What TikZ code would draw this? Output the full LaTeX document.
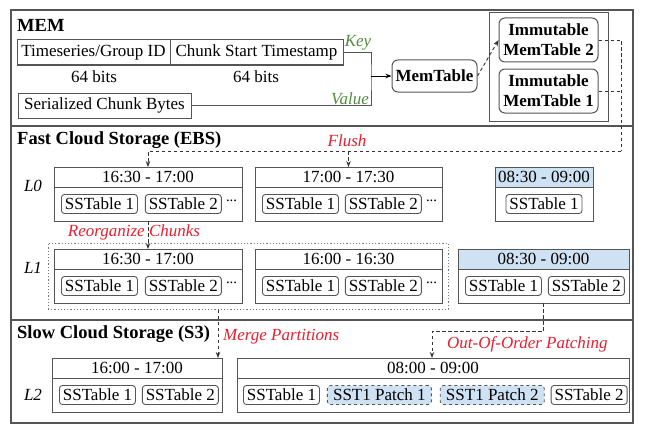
\documentclass[tikz,border=0pt]{standalone}
\usepackage{fontspec}
\setmainfont{Liberation Serif}
\usetikzlibrary{arrows.meta}
\usetikzlibrary{positioning}
\definecolor{edgegray}{RGB}{85,85,85}
\definecolor{hotblue}{RGB}{207,226,243}
\definecolor{opred}{RGB}{232,30,45}
\definecolor{kvgreen}{RGB}{84,140,62}
\newcommand{\figfont}{\fontsize{17}{20}\selectfont}
\tikzset{sec/.style = {draw=edgegray, line width=1.2pt},
         field/.style = {draw=edgegray, line width=1pt, minimum height=25pt,
                          inner sep=2pt, outer sep=0pt},
         mtab/.style = {draw=edgegray, line width=1pt, rounded corners=6pt,
                         font=\figfont\bfseries, align=center, inner sep=2pt},
         hdr/.style = {draw=edgegray, line width=1pt, minimum height=20pt,
                        inner sep=0pt, outer sep=0pt, anchor=north west},
         body/.style = {draw=edgegray, line width=1pt, minimum height=34pt,
                         inner sep=0pt, outer sep=0pt, anchor=north},
         sst/.style = {draw=edgegray, line width=0.9pt, rounded corners=3pt,
                        minimum width=76pt, minimum height=19pt, inner sep=1pt},
         patch/.style = {sst, dashed, fill=hotblue, minimum width=104pt},
         more/.style = {inner sep=1pt, yshift=1.5pt, font=\fontsize{11}{11}\selectfont\bfseries},
         grp/.style = {draw=edgegray!80, line width=1pt, dash pattern=on 1.2pt off 2pt},
         flow/.style = {draw=black!80, line width=0.9pt, dash pattern=on 3.5pt off 2.5pt},
         flowto/.style = {flow, -{Stealth[length=6pt,width=4.5pt]}},
         lvl/.style = {font=\figfont\itshape},
         op/.style = {font=\figfont\itshape, text=opred},
         kv/.style = {font=\figfont\itshape, text=kvgreen},
         sectitle/.style = {font=\fontsize{18.5}{22}\selectfont\bfseries, anchor=west, inner sep=0pt}}

\begin{document}
\begin{tikzpicture}[x=1pt, y=-1pt, font=\figfont]
    \useasboundingbox (0,0) rectangle (650,436);
    % the three storage tiers
    \draw [sec] (11,10) rectangle (633,126);
    \draw [sec] (11,126) rectangle (633,320);
    \draw [sec] (11,320) rectangle (633,423);
    \node [sectitle] (memt) at (17,25) {MEM};
    \node [sectitle] (ebst) at (17,140) {Fast Cloud Storage (EBS)};
    \node [sectitle] (s3t) at (17,334) {Slow Cloud Storage (S3)};

    % MEM
    \node [field, minimum width=153pt, anchor=north west] (tsid) at (17,40) {Timeseries/Group ID};
    \node [field, minimum width=173pt, anchor=west] (cst) at (tsid.east) {Chunk Start Timestamp};
    \node (bits1) at (94,77) {64 bits};
    \node (bits2) at (256,77) {64 bits};
    \node [field, minimum width=173pt, anchor=north west] (scb) at (18,93) {Serialized Chunk Bytes};
    \node [mtab, minimum width=85pt, minimum height=32pt] (memtab) at (434.5,76) {MemTable};
    \coordinate (kvjoin) at (371,76);
    \draw [edgegray, line width=0.9pt] (cst.east) -| (kvjoin) |- (scb.east);
    \draw [line width=0.9pt, -{Stealth[length=6pt,width=4.5pt]}] (kvjoin) -- (memtab.west);
    \node [kv] (keylbl) at (358,43) {Key};
    \node [kv] (vallbl) at (350,99) {Value};
    \draw [edgegray, line width=1pt] (489,13) rectangle (608,121);
    \node [mtab, minimum width=99pt, minimum height=44pt] (imm2) at (548.5,40) {Immutable\\MemTable 2};
    \node [mtab, minimum width=99pt, minimum height=44pt] (imm1) at (548.5,91) {Immutable\\MemTable 1};
    \draw [flowto] (memtab.east) -- (imm2.west);

    % flush into L0
    \coordinate (flushr) at (621,151);
    \draw [flow] (imm2.east) -| (flushr);
    \draw [flow] (imm1.east) -- (imm1.east -| flushr);
    \node [op] (flushlbl) at (347,141) {Flush};

    % L0
    \node [lvl] (l0) at (33,186) {L0};
    \node [hdr, minimum width=188pt] (l0ah) at (54,167) {16:30 - 17:00};
    \node [body, minimum width=188pt] (l0ab) at (l0ah.south) {};
    \node [sst, anchor=west] (l0a1) at ([xshift=7pt]l0ab.west) {SSTable 1};
    \node [sst, right=7pt of l0a1] (l0a2) {SSTable 2};
    \node [more, right=3pt of l0a2] (l0am) {\textperiodcentered\textperiodcentered\textperiodcentered};
    \node [hdr, minimum width=187pt] (l0bh) at (255,167) {17:00 - 17:30};
    \node [body, minimum width=187pt] (l0bb) at (l0bh.south) {};
    \node [sst, anchor=west] (l0b1) at ([xshift=7pt]l0bb.west) {SSTable 1};
    \node [sst, right=6pt of l0b1] (l0b2) {SSTable 2};
    \node [more, right=3pt of l0b2] (l0bm) {\textperiodcentered\textperiodcentered\textperiodcentered};
    \node [hdr, minimum width=98pt, fill=hotblue] (l0ch) at (495,167) {08:30 - 09:00};
    \node [body, minimum width=98pt] (l0cb) at (l0ch.south) {};
    \node [sst] (l0c1) at (l0cb.center) {SSTable 1};
    \draw [flowto] (flushr) -| (l0ah.north);
    \draw [flowto] (l0bh.north |- flushr) -- (l0bh.north);

    % L1
    \node [grp, minimum width=400pt, minimum height=66pt] (l1grp) at (248,276) {};
    \node [lvl] (l1) at (33,268) {L1};
    \node [hdr, minimum width=188pt] (l1ah) at (54,249) {16:30 - 17:00};
    \node [body, minimum width=188pt] (l1ab) at (l1ah.south) {};
    \node [sst, anchor=west] (l1a1) at ([xshift=7pt]l1ab.west) {SSTable 1};
    \node [sst, right=7pt of l1a1] (l1a2) {SSTable 2};
    \node [more, right=3pt of l1a2] (l1am) {\textperiodcentered\textperiodcentered\textperiodcentered};
    \node [hdr, minimum width=187pt] (l1bh) at (255,249) {16:00 - 16:30};
    \node [body, minimum width=187pt] (l1bb) at (l1bh.south) {};
    \node [sst, anchor=west] (l1b1) at ([xshift=7pt]l1bb.west) {SSTable 1};
    \node [sst, right=6pt of l1b1] (l1b2) {SSTable 2};
    \node [more, right=3pt of l1b2] (l1bm) {\textperiodcentered\textperiodcentered\textperiodcentered};
    \node [hdr, minimum width=171pt, fill=hotblue] (l1ch) at (458,249) {08:30 - 09:00};
    \node [body, minimum width=171pt] (l1cb) at (l1ch.south) {};
    \node [sst, anchor=west] (l1c1) at ([xshift=7pt]l1cb.west) {SSTable 1};
    \node [sst, right=6pt of l1c1] (l1c2) {SSTable 2};
    \draw [flowto] (l0ab.south) -- (l1ah.north);
    \node [op] (reorg) at (134,232) {Reorganize Chunks};

    % L2
    \node [lvl] (l2) at (33,395) {L2};
    \node [hdr, minimum width=170pt] (l2ah) at (52,358) {16:00 - 17:00};
    \node [body, minimum width=170pt] (l2ab) at (l2ah.south) {};
    \node [sst, anchor=west] (l2a1) at ([xshift=7pt]l2ab.west) {SSTable 1};
    \node [sst, right=6pt of l2a1] (l2a2) {SSTable 2};
    \node [hdr, minimum width=392pt] (l2bh) at (237,358) {08:00 - 09:00};
    \node [body, minimum width=392pt] (l2bb) at (l2bh.south) {};
    \node [sst, anchor=west] (l2b1) at ([xshift=6pt]l2bb.west) {SSTable 1};
    \node [patch, right=7pt of l2b1] (l2p1) {SST1 Patch 1};
    \node [patch, right=8pt of l2p1] (l2p2) {SST1 Patch 2};
    \node [sst, right=6pt of l2p2] (l2b2) {SSTable 2};

    % compaction into S3
    \draw [flowto] ([xshift=-30pt]l1grp.south) coordinate (mrg) -- (mrg |- l2ah.north);
    \node [op, anchor=west, inner sep=0pt] (mrglbl) at (223,337) {Merge Partitions};
    \coordinate (ooo) at (432,331);
    \draw [flowto] (l1cb.south) |- (ooo) -- (ooo |- l2bh.north);
    \node [op, anchor=west, inner sep=0pt] (ooolbl) at (447,344) {Out-Of-Order Patching};
  \end{tikzpicture}
\end{document}
